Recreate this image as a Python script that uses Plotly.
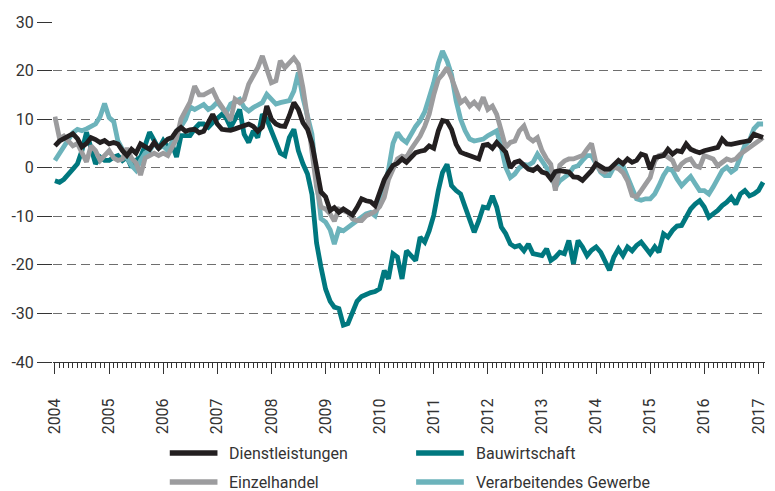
import pandas as pd
import plotly.graph_objects as go

# monthly values, Jan 2004 - Feb 2017
months = pd.date_range("2004-01-01", periods=158, freq="MS")

dienstleistungen = [
    4.5, 5.5, 6.0, 6.5, 7.0, 6.0, 4.3, 5.0, 6.2, 5.8, 5.2, 5.6,
    4.9, 5.2, 4.9, 3.5, 2.5, 3.8, 3.0, 4.9, 4.2, 3.8, 5.2, 4.0,
    5.0, 5.9, 6.2, 7.6, 8.3, 7.5, 7.8, 7.9, 7.2, 7.5, 9.3, 11.0,
    9.0, 7.9, 7.8, 7.7, 8.0, 8.4, 8.6, 9.0, 8.5, 7.5, 8.4, 12.7,
    10.0, 9.0, 8.6, 8.5, 10.7, 13.4, 12.0, 9.3, 7.9, 5.0, 0.0, -5.0,
    -6.0, -8.8, -8.2, -9.2, -8.5, -9.0, -9.7, -8.2, -6.4, -6.8, -7.0, -7.8,
    -5.1, -2.5, -1.0, 0.5, 0.9, 1.8, 1.1, 2.1, 3.1, 3.4, 3.6, 4.5,
    4.0, 7.6, 9.7, 9.5, 7.9, 4.8, 3.2, 2.8, 2.5, 2.1, 1.8, 4.6,
    4.8, 4.0, 5.2, 4.2, 3.2, 0.0, 1.1, 1.4, 0.5, -0.3, -0.6, 0.1,
    -0.9, -1.2, -2.3, -0.8, -0.6, -0.8, -0.9, -1.9, -2.0, -2.6, -1.6, -0.6,
    0.8, 0.1, -0.3, -0.3, 0.5, 1.5, 0.8, 1.8, 1.1, 1.5, 2.8, 2.5,
    -0.3, 2.1, 2.3, 2.5, 3.8, 2.8, 3.5, 3.3, 4.9, 3.8, 3.4, 3.1,
    3.5, 3.8, 4.0, 4.2, 5.9, 4.9, 4.8, 4.9, 5.2, 5.4, 5.6, 6.9,
    6.6, 6.2,
]

bauwirtschaft = [
    -2.7, -3.0, -2.4, -1.5, -0.3, 0.8, 3.5, 7.3, 3.5, 0.8, 2.2, 1.5,
    1.5, 2.2, 2.5, 1.5, 2.2, 0.1, 1.5, 2.2, 4.6, 7.3, 5.6, 3.9,
    5.6, 4.2, 4.9, 2.2, 6.6, 6.6, 6.6, 8.0, 9.0, 9.0, 8.3, 9.3,
    10.3, 11.0, 10.3, 8.3, 10.0, 12.0, 6.9, 5.2, 7.6, 6.2, 11.0, 10.0,
    7.6, 4.9, 3.0, 2.5, 6.2, 7.9, 3.5, 0.8, -1.3, -5.5, -15.5, -20.5,
    -25.0, -27.5, -28.7, -29.0, -32.4, -32.1, -30.0, -27.5, -26.5, -26.0, -25.7, -25.5,
    -24.9, -21.2, -22.9, -17.7, -18.4, -22.9, -17.1, -18.1, -19.1, -14.3, -15.3, -13.0,
    -9.8, -4.7, -1.0, 0.7, -3.7, -4.7, -5.4, -8.1, -10.5, -13.3, -10.9, -8.1,
    -8.3, -5.8, -8.1, -12.2, -13.6, -15.7, -16.3, -16.0, -17.1, -15.7, -17.7, -17.9,
    -18.1, -16.7, -19.1, -18.4, -17.4, -17.7, -15.0, -19.8, -15.0, -16.3, -18.1, -17.0,
    -16.3, -17.4, -19.0, -21.1, -18.4, -16.7, -18.1, -16.3, -17.1, -16.0, -15.3, -16.7,
    -17.7, -16.3, -17.4, -13.6, -14.3, -12.9, -12.0, -11.9, -10.2, -8.5, -7.5, -6.8,
    -8.1, -10.2, -9.5, -8.8, -7.8, -7.1, -6.1, -7.5, -5.4, -4.7, -5.8, -5.4,
    -4.7, -3.0,
]

einzelhandel = [
    10.5, 6.0, 6.5, 5.5, 4.5, 5.0, 3.0, 1.2, 4.5, 3.5, 1.5, 2.5,
    3.5, 2.0, 1.5, 1.8, 4.0, 2.0, 1.0, -1.5, 2.0, 2.5, 3.0, 2.5,
    3.0, 2.5, 4.0, 6.0, 10.0, 12.0, 13.5, 16.8, 15.0, 15.0, 15.5, 16.0,
    14.0, 12.7, 11.3, 9.7, 14.1, 13.4, 14.1, 17.2, 18.9, 20.6, 23.0, 19.9,
    17.5, 17.9, 22.0, 20.6, 21.6, 22.6, 21.3, 16.5, 10.3, 3.5, -4.0, -8.1,
    -8.5, -9.5, -11.0, -8.5, -8.8, -9.2, -10.5, -10.9, -10.9, -9.9, -9.5, -9.0,
    -8.0, -6.1, -2.5, 0.0, 1.8, 2.4, 2.1, 3.8, 5.0, 6.5, 8.5, 11.0,
    15.0, 18.2, 19.2, 20.6, 18.5, 15.5, 13.4, 14.1, 12.7, 13.5, 12.4, 14.5,
    12.0, 12.7, 11.0, 7.6, 4.2, 5.2, 5.5, 7.6, 8.6, 6.2, 5.5, 6.2,
    3.5, 1.8, 0.7, -4.7, 0.5, 1.4, 1.8, 1.8, 2.1, 2.5, 3.8, 5.0,
    0.8, -0.6, -0.9, -0.2, 0.1, -0.2, -1.0, -2.7, -5.7, -6.0, -4.7, -3.3,
    -2.0, 1.4, 2.5, 2.8, 2.1, 1.5, -0.6, 0.8, 1.5, 1.8, 0.4, 0.1,
    2.5, 2.0, 1.8, 0.4, 1.1, 1.8, 1.5, 1.8, 2.8, 3.5, 4.2, 4.9,
    5.5, 6.2,
]

verarbeitendes_gewerbe = [
    1.5, 3.0, 4.5, 6.0, 7.2, 7.9, 7.6, 8.0, 8.5, 9.0, 10.5, 13.2,
    10.3, 9.5, 5.5, 3.5, 2.0, 0.5, -0.5, 1.5, 3.0, 3.5, 5.0, 4.0,
    4.5, 3.5, 5.5, 7.5, 8.5, 10.0, 12.5, 12.0, 12.5, 13.0, 12.0, 12.5,
    13.5, 12.4, 11.3, 13.1, 13.5, 14.1, 12.4, 11.7, 12.4, 12.8, 13.4, 15.1,
    14.1, 13.1, 13.4, 13.6, 13.8, 15.8, 19.6, 14.4, 10.7, 6.9, -2.5, -10.5,
    -11.2, -12.8, -15.7, -12.6, -13.0, -12.3, -11.9, -11.0, -10.2, -9.5, -9.2, -9.9,
    -7.0, -4.0, -0.5, 5.0, 7.2, 5.9, 5.2, 7.0, 8.5, 9.7, 11.5, 14.4,
    17.5, 21.5, 24.0, 22.0, 19.2, 13.8, 10.0, 7.6, 5.9, 5.5, 5.7, 5.9,
    6.6, 7.2, 7.6, 4.2, 0.1, -2.0, -1.3, 0.0, 0.7, 0.5, 1.1, 2.8,
    1.4, -0.3, -1.3, -4.0, -2.7, -2.0, -1.3, 0.1, 0.4, 1.5, 2.5, 2.5,
    0.8, -0.9, -1.6, -1.6, 0.1, 0.8, 0.4, -2.0, -4.0, -6.4, -6.7, -6.4,
    -6.4, -5.4, -3.7, -1.6, -0.2, -0.6, -2.3, -3.7, -2.7, -1.8, -3.3, -4.7,
    -4.7, -5.4, -4.0, -2.0, -0.6, 0.1, -0.9, -0.2, 2.5, 4.6, 5.6, 8.0,
    9.0, 9.0,
]

y_ticks = [30, 20, 10, 0, -10, -20, -30, -40]
y_labels = ["30", "20", "10", "0", "-10", "-20", "-30", "-40"]

series = [
    ("Bauwirtschaft", bauwirtschaft, "#00787f"),
    ("Verarbeitendes Gewerbe", verarbeitendes_gewerbe, "#6cb3bb"),
    ("Einzelhandel", einzelhandel, "#9c9c9e"),
    ("Dienstleistungen", dienstleistungen, "#231f20"),
]

FONT = "Roboto"
TEXT = "#333333"

fig = go.Figure()
for name, values, color in series:
    fig.add_trace(
        go.Scatter(
            x=months,
            y=values,
            mode="lines",
            name=name,
            line=dict(color=color, width=4.8),
            showlegend=False,
        )
    )

fig.update_layout(
    width=775,
    height=491,
    margin=dict(l=53, r=10, t=22, b=129),
    paper_bgcolor="white",
    plot_bgcolor="white",
    font=dict(family=FONT, size=16, color=TEXT),
)

fig.update_yaxes(
    range=[-40, 30],
    tickvals=y_ticks,
    ticktext=y_labels,
    ticks="outside",
    ticklen=15,
    tickwidth=1,
    tickcolor="#333333",
    showgrid=True,
    gridcolor="#6e6e6e",
    gridwidth=1,
    griddash="9px,5px",
    zeroline=False,
    showline=False,
    automargin=False,
    tickfont=dict(size=16),
)

fig.update_xaxes(
    range=["2003-12-19", "2017-02-14"],
    tickvals=pd.date_range("2004-01-01", "2017-01-01", freq="YS"),
    tickformat="%Y",
    tickangle=-90,
    ticks="outside",
    ticklen=11,
    tickwidth=1,
    tickcolor="#333333",
    minor=dict(ticks="outside", ticklen=5, dtick="M1", tickcolor="#333333",
               tickwidth=1, showgrid=False),
    showline=True,
    linecolor="#333333",
    linewidth=1,
    showgrid=False,
    zeroline=False,
    automargin=False,
    ticklabelstandoff=18,
    tickfont=dict(size=16),
)

# legend drawn by hand: two columns, two rows
legend_items = [
    ("Dienstleistungen", "#231f20", 0.164, -0.268),
    ("Bauwirtschaft", "#00787f", 0.510, -0.268),
    ("Einzelhandel", "#9c9c9e", 0.164, -0.353),
    ("Verarbeitendes Gewerbe", "#6cb3bb", 0.510, -0.353),
]
for label, color, lx, ly in legend_items:
    fig.add_shape(
        type="line", xref="paper", yref="paper",
        x0=lx, x1=lx + 0.067, y0=ly, y1=ly,
        line=dict(color=color, width=5.5),
    )
    fig.add_annotation(
        x=lx + 0.081, y=ly, xref="paper", yref="paper",
        text=label, showarrow=False, xanchor="left", yanchor="middle",
        font=dict(family=FONT, size=16, color=TEXT),
    )

fig.write_html(
    "out.html",
    config={"displayModeBar": False},
    post_script="document.body.style.margin='0';",
)
